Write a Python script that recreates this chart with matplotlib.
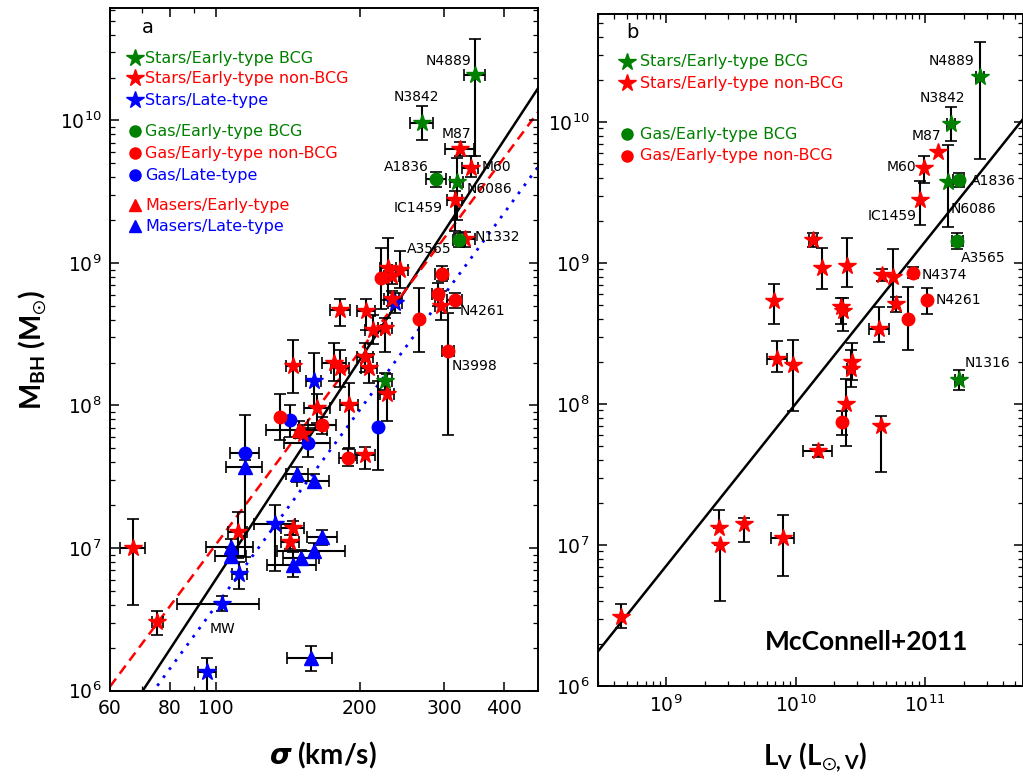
import numpy as np
import matplotlib
matplotlib.use('Agg')
import matplotlib.pyplot as plt
from matplotlib.ticker import FixedLocator, FixedFormatter, NullFormatter

plt.rcParams['font.family'] = ['DejaVu Sans']
plt.rcParams['mathtext.fontset'] = 'custom'
plt.rcParams['mathtext.rm'] = 'Lato:bold'
plt.rcParams['mathtext.bf'] = 'Lato:bold'
plt.rcParams['mathtext.it'] = 'DejaVu Sans:italic:bold'
plt.rcParams['mathtext.fallback'] = 'stixsans'

C_GREEN = '#008000'
C_RED = '#ff0000'
C_BLUE = '#0000ff'

# ---------------------------------------------------------------------
# Panel a: rows = [sigma (km/s), sigma err, log M_BH, err low (dex), err high (dex)]
# ---------------------------------------------------------------------
a_star_bcg = [[348, 18, 10.32, 0.57, 0.25],   # N4889
              [270, 15, 9.98, 0.12, 0.12],    # N3842
              [319, 10, 9.57, 0.27, 0.17],    # N6086
              [226, 8, 8.17, 0.06, 0.06]]     # N1316
a_star_early = [[324, 23, 9.80, 0.05, 0.05],  # M87
                [341, 13, 9.67, 0.07, 0.08],  # M60
                [316, 12, 9.445, 0.22, 0.06], # IC1459
                [332, 16, 9.165, 0.05, 0.05], # N1332
                [229, 9, 8.968, 0.23, 0.21],
                [243, 9, 8.954, 0.13, 0.13],
                [233, 8, 8.912, 0.06, 0.06],
                [296, 8, 8.70, 0.10, 0.10],
                [233, 8, 8.75, 0.05, 0.05],
                [182, 9, 8.667, 0.11, 0.08],
                [206, 9, 8.66, 0.13, 0.09],
                [213, 8, 8.533, 0.10, 0.10],
                [226, 8, 8.547, 0.17, 0.07],
                [145, 5, 8.28, 0.19, 0.18],
                [177, 10, 8.30, 0.13, 0.14],
                [182, 8, 8.26, 0.13, 0.13],
                [205, 8, 8.337, 0.10, 0.10],
                [209, 8, 8.26, 0.10, 0.10],
                [228, 8, 8.084, 0.19, 0.14],
                [190, 8, 8.00, 0.30, 0.16],
                [163, 10, 7.979, 0.10, 0.10],
                [152, 0, 7.80, 0.06, 0.06],
                [205, 10, 7.656, 0.10, 0.05],
                [111, 5, 7.11, 0.18, 0.14],
                [145, 8, 7.14, 0.05, 0.05],
                [143, 6, 7.04, 0.05, 0.05],
                [67, 4, 7.00, 0.40, 0.20],
                [75.3, 2, 6.48, 0.09, 0.08]]
a_star_late = [[237, 8, 8.72, 0.07, 0.07],
               [160, 6, 8.17, 0.18, 0.20],
               [133, 13, 7.17, 0.33, 0.13],
               [112, 4, 6.82, 0.11, 0.08],
               [103, 20, 6.61, 0.05, 0.05],   # MW
               [95.8, 4, 6.13, 0.13, 0.10]]
a_gas_bcg = [[289, 14, 9.586, 0.05, 0.05],    # A1836
             [322, 8, 9.16, 0.05, 0.05]]      # A3565
a_gas_early = [[222, 0, 8.898, 0.22, 0.21],
               [297, 9, 8.926, 0.05, 0.05],
               [291, 8, 8.779, 0.08, 0.08],
               [316, 12, 8.737, 0.05, 0.05],  # N4261
               [266, 0, 8.604, 0.23, 0.22],
               [306, 9, 8.38, 0.59, 0.27],    # N3998
               [136, 0, 7.92, 0.16, 0.16],
               [167, 11, 7.86, 0.06, 0.06],
               [189, 8, 7.635, 0.06, 0.06]]
a_gas_late = [[143, 0, 7.90, 0.12, 0.10],
              [156, 17, 7.74, 0.10, 0.10],
              [218, 0, 7.85, 0.30, 0.32],
              [115, 8, 7.67, 0.10, 0.26]]
a_maser_early = [[149, 22, 7.83, 0.06, 0.06]]
a_maser_late = [[115, 10, 7.565, 0.63, 0.05],
                [148, 8, 7.516, 0.05, 0.05],
                [160, 12, 7.47, 0.05, 0.05],
                [167, 12, 7.074, 0.05, 0.05],
                [160, 26, 6.982, 0.05, 0.05],
                [151, 13, 6.933, 0.05, 0.05],
                [145, 17, 6.884, 0.09, 0.09],
                [107.5, 12, 7.01, 0.05, 0.05],
                [107.5, 8, 6.947, 0.05, 0.05],
                [158, 17, 6.225, 0.085, 0.09]]

# fits: log M = A + B log(sigma/200)
fit_all = (8.32, 5.11)
fit_early = (8.38, 4.50)
fit_late = (7.97, 4.57)

a_names = [('N4889', 306, 2.6e10), ('N3842', 263, 1.45e10), ('M87', 319, 8.1e9),
           ('M60', 387, 4.68e9), ('A1836', 250, 4.75e9), ('N6086', 374, 3.3e9),
           ('IC1459', 265, 2.45e9), ('N1332', 389, 1.53e9), ('A3565', 280, 1.26e9),
           ('N4261', 362, 4.57e8), ('N3998', 348, 1.9e8), ('MW', 103, 2.72e6)]

# ---------------------------------------------------------------------
# Panel b: rows = [log L_V, err (dex), log M_BH, err low, err high]
# ---------------------------------------------------------------------
b_star_bcg = [[11.425, 0.03, 10.32, 0.58, 0.25],
              [11.20, 0.03, 9.986, 0.12, 0.12],
              [11.18, 0, 9.575, 0.32, 0.26],
              [11.26, 0.03, 8.17, 0.07, 0.07]]
b_gas_bcg = [[11.26, 0.04, 9.59, 0.05, 0.05],
             [11.25, 0.04, 9.156, 0.06, 0.06]]
b_star_early = [[11.10, 0, 9.79, 0, 0],
                [10.99, 0, 9.67, 0.10, 0.09],
                [10.96, 0, 9.45, 0.18, 0.13],
                [10.135, 0.03, 9.163, 0.05, 0.05],
                [10.205, 0, 8.965, 0.15, 0.14],
                [10.40, 0, 8.98, 0.15, 0.20],
                [10.668, 0, 8.915, 0.04, 0.04],
                [10.753, 0, 8.90, 0.21, 0.20],
                [9.834, 0, 8.73, 0.16, 0.12],
                [10.35, 0, 8.69, 0.12, 0.06],
                [10.37, 0.03, 8.66, 0.14, 0.09],
                [10.776, 0, 8.71, 0.06, 0.05],
                [10.645, 0.08, 8.53, 0.09, 0.16],
                [9.857, 0.08, 8.32, 0.09, 0.13],
                [9.98, 0, 8.277, 0.33, 0.18],
                [10.44, 0, 8.30, 0.13, 0.13],
                [10.43, 0.03, 8.25, 0.13, 0.13],
                [10.39, 0, 8.00, 0.30, 0.18],
                [10.66, 0, 7.844, 0.33, 0.07],
                [10.17, 0.11, 7.667, 0.04, 0.04],
                [9.41, 0, 7.12, 0, 0.13],
                [9.417, 0, 7.00, 0.40, 0],
                [9.60, 0, 7.15, 0.13, 0.04],
                [9.90, 0.09, 7.05, 0.27, 0.16],
                [8.652, 0, 6.49, 0.08, 0.09]]
b_gas_early = [[10.907, 0.02, 8.93, 0.04, 0.04],
               [11.015, 0, 8.74, 0.10, 0.08],
               [10.87, 0, 8.60, 0.22, 0.23],
               [10.36, 0, 7.87, 0.09, 0.08]]

# log M = A + B (log L - 11)
fit_lum = (9.15, 1.15)

b_names = [('N4889', 11.208, 10.433), ('N3842', 11.131, 10.17), ('M87', 11.008, 9.90),
           ('M60', 10.815, 9.68), ('A1836', 11.525, 9.58), ('N6086', 11.378, 9.383),
           ('IC1459', 10.745, 9.333), ('A3565', 11.448, 9.035), ('N4374', 11.147, 8.915),
           ('N4261', 11.255, 8.738), ('N1316', 11.486, 8.29)]

EB = dict(fmt='none', ecolor='k', elinewidth=1.5, capsize=4, capthick=1.2, zorder=2)


def draw_group(ax, rows, marker, color, ms, log_x=False):
    d = np.array(rows, dtype=float)
    x, xe, lm, lo, hi = d.T
    y = 10**lm
    ylo, yhi = y - 10**(lm - lo), 10**(lm + hi) - y
    if log_x:
        xv = 10**x
        xlo, xhi = xv - 10**(x - xe), 10**(x + xe) - xv
    else:
        xv, xlo, xhi = x, xe, xe
    m = xe > 0
    if m.any():
        ax.errorbar(xv[m], y[m], xerr=[xlo[m], xhi[m]], **EB)
    m = (lo + hi) > 0
    if m.any():
        ax.errorbar(xv[m], y[m], yerr=[ylo[m], yhi[m]], **EB)
    ax.plot(xv, y, ls='none', marker=marker, color=color, mec=color, ms=ms, zorder=3)


def legend_entry(ax, fx, fy, tx, marker, color, ms, text):
    ax.plot([fx], [fy], ls='none', marker=marker, color=color, mec=color, ms=ms,
            transform=ax.transAxes, clip_on=False, zorder=5)
    ax.text(tx, fy, text, color=color, fontsize=11.5, ha='left', va='center',
            transform=ax.transAxes)


def style_axes(ax):
    for s in ax.spines.values():
        s.set_linewidth(1.4)
    ax.tick_params(which='both', direction='in', top=True, right=True, labelsize=13.5)
    ax.tick_params(which='major', length=6.5, width=1.1, pad=6)
    ax.tick_params(which='minor', length=3.5, width=0.9)


fig = plt.figure(figsize=(10.23, 7.82), dpi=100)
ax1 = fig.add_axes([0.1075, 0.117, 0.4184, 0.8727])
ax2 = fig.add_axes([0.5846, 0.1228, 0.4154, 0.8593])

# ----------------------------- panel a -----------------------------
ax1.set_xscale('log')
ax1.set_yscale('log')
ax1.set_xlim(60, 472)
ax1.set_ylim(1e6, 6.15e10)

sig = np.logspace(np.log10(60), np.log10(472), 60)
ax1.plot(sig, 10**(fit_all[0] + fit_all[1] * np.log10(sig / 200)), color='k', lw=1.8, zorder=1)
ax1.plot(sig, 10**(fit_early[0] + fit_early[1] * np.log10(sig / 200)), color=C_RED, lw=1.8,
         ls=(0, (4, 2.5)), zorder=1)
ax1.plot(sig, 10**(fit_late[0] + fit_late[1] * np.log10(sig / 200)), color=C_BLUE, lw=2,
         ls=(0, (1, 2.6)), zorder=1)

draw_group(ax1, a_maser_late, '^', C_BLUE, 10)
draw_group(ax1, a_maser_early, '^', C_RED, 10)
draw_group(ax1, a_gas_late, 'o', C_BLUE, 9)
draw_group(ax1, a_gas_early, 'o', C_RED, 9)
draw_group(ax1, a_star_late, '*', C_BLUE, 13)
draw_group(ax1, a_star_early, '*', C_RED, 13)
draw_group(ax1, a_star_bcg, '*', C_GREEN, 13)
draw_group(ax1, a_gas_bcg, 'o', C_GREEN, 9)

for name, xs, ym in a_names:
    ax1.text(xs, ym, name, fontsize=10, ha='center', va='center', zorder=6)

ax1.xaxis.set_major_locator(FixedLocator([60, 80, 100, 200, 300, 400]))
ax1.xaxis.set_major_formatter(FixedFormatter(['60', '80', '100', '200', '300', '400']))
ax1.xaxis.set_minor_locator(FixedLocator([70, 90]))
ax1.xaxis.set_minor_formatter(NullFormatter())
style_axes(ax1)

ax1.text(0.089, 0.971, 'a', fontsize=14, ha='center', va='center', transform=ax1.transAxes)
a_leg = [(0.9267, '*', C_GREEN, 13, 'Stars/Early-type BCG'),
         (0.8974, '*', C_RED, 13, 'Stars/Early-type non-BCG'),
         (0.8652, '*', C_BLUE, 13, 'Stars/Late-type'),
         (0.8198, 'o', C_GREEN, 8, 'Gas/Early-type BCG'),
         (0.7875, 'o', C_RED, 8, 'Gas/Early-type non-BCG'),
         (0.7553, 'o', C_BLUE, 8, 'Gas/Late-type'),
         (0.7114, '^', C_RED, 9, 'Masers/Early-type'),
         (0.6806, '^', C_BLUE, 9, 'Masers/Late-type')]
for fy, mk, col, ms, txt in a_leg:
    legend_entry(ax1, 0.058, fy, 0.082, mk, col, ms, txt)

# ----------------------------- panel b -----------------------------
ax2.set_xscale('log')
ax2.set_yscale('log')
ax2.set_xlim(10**8.475, 10**11.757)
ax2.set_ylim(1e6, 5.83e10)

lgl = np.linspace(8.475, 11.757, 60)
ax2.plot(10**lgl, 10**(fit_lum[0] + fit_lum[1] * (lgl - 11)), color='k', lw=1.8, zorder=1)

draw_group(ax2, b_gas_early, 'o', C_RED, 9, log_x=True)
draw_group(ax2, b_star_early, '*', C_RED, 13, log_x=True)
draw_group(ax2, b_star_bcg, '*', C_GREEN, 13, log_x=True)
draw_group(ax2, b_gas_bcg, 'o', C_GREEN, 9, log_x=True)

for name, xl, ym in b_names:
    ax2.text(10**xl, 10**ym, name, fontsize=10, ha='center', va='center', zorder=6)

style_axes(ax2)
ax2.text(0.082, 0.973, 'b', fontsize=14, ha='center', va='center', transform=ax2.transAxes)
b_leg = [(0.9286, '*', C_GREEN, 13, 'Stars/Early-type BCG'),
         (0.8973, '*', C_RED, 13, 'Stars/Early-type non-BCG'),
         (0.8214, 'o', C_GREEN, 8, 'Gas/Early-type BCG'),
         (0.7887, 'o', C_RED, 8, 'Gas/Early-type non-BCG')]
for fy, mk, col, ms, txt in b_leg:
    legend_entry(ax2, 0.068, fy, 0.099, mk, col, ms, txt)

ax2.text(0.633, 0.066, 'McConnell+2011', fontsize=19, fontweight='bold', family='Lato',
         ha='center', va='center', transform=ax2.transAxes)

# axis labels
fig.text(33 / 1023, 1 - 350 / 782, r'M$_{\mathrm{BH}}$ (M$_{\odot}$)', rotation=90,
         fontsize=20, fontweight='bold', family='Lato', ha='center', va='center')
fig.text(323 / 1023, 1 - 755 / 782, r'$\sigma$ (km/s)', fontsize=20, fontweight='bold',
         family='Lato', ha='center', va='center')
fig.text(815 / 1023, 1 - 757 / 782, r'L$_{\mathrm{V}}$ (L$_{\odot\mathrm{,V}}$)', fontsize=20,
         fontweight='bold', family='Lato', ha='center', va='center')

fig.savefig('out.png', dpi=100, facecolor='white')
